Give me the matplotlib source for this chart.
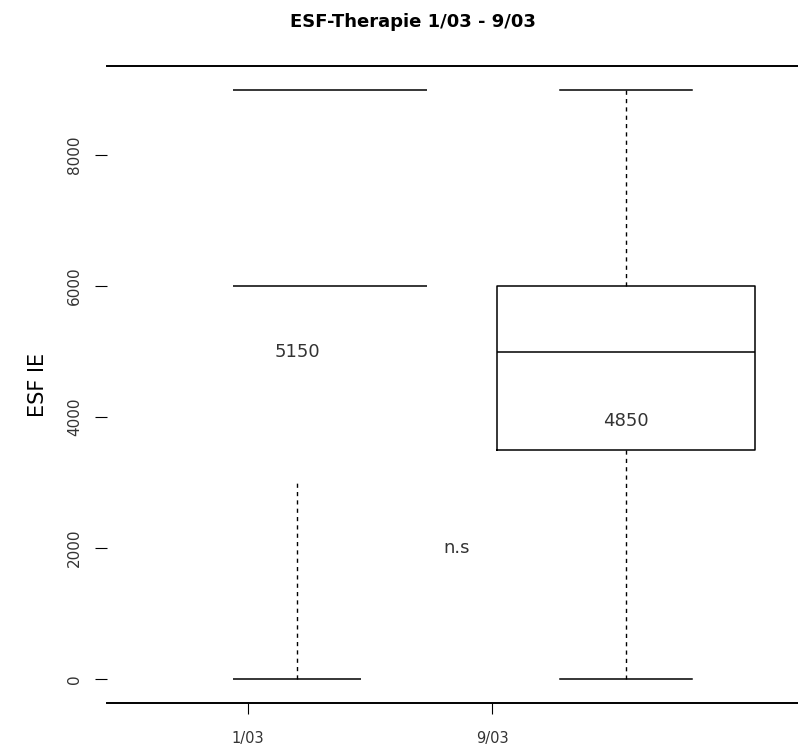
import matplotlib
matplotlib.use('Agg')
import matplotlib.pyplot as plt

# values
groups = ['1/03', '9/03']
tick_pos = [0.851, 1.593]          # where the x labels sit
yticks = [0, 2000, 4000, 6000, 8000]

# left group (drawn as loose pieces in the reference)
left_lines = [9000, 6000]
left_whisk = [0, 3000]
left_label = '5150'

# right group boxplot stats
right_stats = dict(whislo=0, q1=3500, med=5000, q3=6000, whishi=9000, fliers=[])
right_label = '4850'
right_label_y = 3940

fig = plt.figure(figsize=(7.98, 7.51), dpi=100)
ax = fig.add_axes([107/798, 1-703/751, 1-107/798, (703-66)/751])

# left group
ax.hlines(left_lines, 0.805, 1.395, color='k', lw=1.1)
ax.hlines(left_whisk[0], 0.805, 1.195, color='k', lw=1.1)
ax.vlines(1, left_whisk[0], left_whisk[1], color='k', lw=1.0, linestyles=(0, (3, 3)))
ax.text(1, 5000, left_label, ha='center', va='center', fontsize=13, color='#333333')

# right group
ax.bxp([right_stats], positions=[2], widths=0.784, showfliers=False,
       boxprops=dict(color='k', lw=1.1),
       medianprops=dict(color='k', lw=1.1),
       whiskerprops=dict(color='k', lw=1.0, linestyle=(0, (3, 3))),
       capprops=dict(color='k', lw=1.1), capwidths=0.40)
ax.text(2, right_label_y, right_label, ha='center', va='center', fontsize=13, color='#333333')

ax.text(1.486, 2000, 'n.s', ha='center', va='center', fontsize=13, color='#333333')

ax.set_xlim(0.422, 2.523)
ax.set_ylim(-366, 9359)
ax.set_xticks(tick_pos)
ax.set_xticklabels(groups, fontsize=10.5, color='#333333')
ax.set_yticks(yticks)
ax.set_yticklabels([str(v) for v in yticks], rotation=90, va='center',
                   fontsize=11, color='#333333')
ax.tick_params(axis='y', length=9, pad=9)
ax.tick_params(axis='x', length=8, pad=12)
ax.spines['left'].set_visible(False)
ax.spines['right'].set_visible(False)
ax.spines['top'].set_linewidth(1.4)
ax.spines['bottom'].set_linewidth(1.4)
ax.set_ylabel('ESF IE', fontsize=15, labelpad=14)

fig.text(413/798, 1-22/751, 'ESF-Therapie 1/03 - 9/03', ha='center', va='center',
         fontsize=13, fontweight='bold')

plt.savefig('out.png', dpi=100)
plt.close()
